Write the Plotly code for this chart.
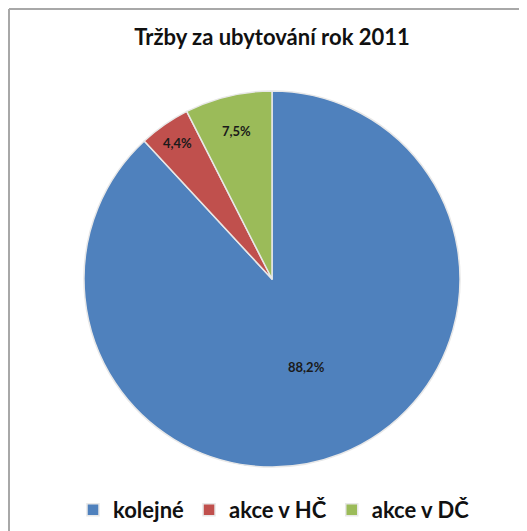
import plotly.graph_objects as go

title_text = "Tržby za ubytování rok 2011"
categories = ["kolejné", "akce v HČ", "akce v DČ"]
values = [88.2, 4.4, 7.5]
colors = ["#4F81BD", "#C0504D", "#9BBB59"]

# page body has an 8px margin; figure coordinates = page coordinates - 8
OFF = 8
W, H = 527 - OFF, 531 - OFF
cx, cy, r = 272 - OFF, 279 - OFF, 188

FONT = "Lato, Open Sans, sans-serif"

fig = go.Figure(go.Pie(
    labels=categories,
    values=values,
    sort=False,
    direction="clockwise",
    rotation=0,
    marker=dict(colors=colors, line=dict(color="#E8E8E8", width=1.5)),
    texttemplate="%{value:.1f}%",
    textposition="inside",
    insidetextorientation="horizontal",
    textfont=dict(family=FONT, size=13, color="#1A1A1A", weight="bold"),
    hoverinfo="label+value",
    domain=dict(x=[(cx - r) / W, (cx + r) / W],
                y=[(H - cy - r) / H, (H - cy + r) / H]),
))

fig.update_layout(
    width=W, height=H,
    margin=dict(l=0, r=0, t=0, b=0),
    paper_bgcolor="white",
    separators=", ",
    title=dict(text=title_text, x=(272 - OFF) / W, xanchor="center",
               y=1 - (37 - OFF) / H, yanchor="middle",
               font=dict(family=FONT, size=22, color="#111111", weight="bold")),
    showlegend=True,
    legend=dict(orientation="h", x=(274 - OFF) / W, xanchor="center",
                y=1 - (510 - OFF) / H, yanchor="middle",
                font=dict(family=FONT, size=22, color="#111111", weight="bold"),
                itemwidth=30, traceorder="normal"),
    shapes=[
        dict(type="line", xref="paper", yref="paper", x0=1 / W, x1=1, y0=1 - 1 / H, y1=1 - 1 / H,
             line=dict(color="#A8A8A8", width=2)),
        dict(type="line", xref="paper", yref="paper", x0=1 / W, x1=1 / W, y0=1 - 1 / H, y1=0,
             line=dict(color="#A8A8A8", width=2)),
    ],
)

fig.write_html("out.html")
